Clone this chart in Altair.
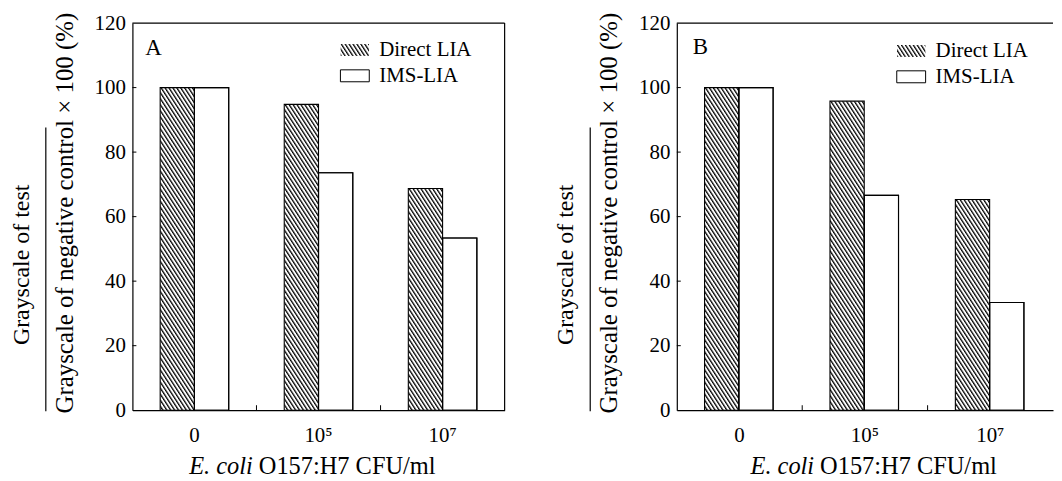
import base64
import altair as alt
import pandas as pd

# ---- data ----
categories = ["0", "10⁵", "10⁷"]
series = ["Direct LIA", "IMS-LIA"]
a_direct = [100.0, 94.8, 68.7]
a_ims = [100.0, 73.6, 53.4]
b_direct = [100.0, 95.8, 65.3]
b_ims = [100.0, 66.6, 33.4]
y_ticks = [20, 40, 60, 80, 100]
boundary_cats = ["10⁵", "10⁷"]

FONT = "Liberation Serif"
FS = 21
TFS = 24.5
H = 389

hatch_svg = (
    '<svg xmlns="http://www.w3.org/2000/svg">'
    '<defs><pattern id="h" patternUnits="userSpaceOnUse" width="3.3" height="20" '
    'patternTransform="rotate(-33)">'
    '<rect x="0" y="0" width="1.3" height="20" fill="black"/></pattern></defs>'
    '<rect width="100%" height="100%" fill="white"/>'
    '<rect width="100%" height="100%" fill="url(#h)"/></svg>'
)
HATCH = "data:image/svg+xml;base64," + base64.b64encode(hatch_svg.encode()).decode()


def panel(direct, ims, W, letter, leg, title_pos, ytitle, right_border):
    df = pd.DataFrame({
        "cat": categories * 2,
        "series": [series[0]] * 3 + [series[1]] * 3,
        "value": direct + ims,
        "img": [HATCH] * 3 + [""] * 3,
    })
    xsc = alt.Scale(domain=categories, paddingInner=0, paddingOuter=0)
    x_axis = alt.Axis(title=None, labelAngle=0, ticks=False, labelFont=FONT,
                      labelFontSize=FS, labelColor="black", labelPadding=14,
                      domainColor="black", domainWidth=1.2)
    x_enc = alt.X("cat:N", scale=xsc, sort=None, axis=x_axis)
    y_axis = alt.Axis(title=None, values=[0, 20, 40, 60, 80, 100, 120], ticks=False,
                      grid=False, labelFont=FONT, labelFontSize=FS,
                      labelColor="black", labelPadding=7,
                      domainColor="black", domainWidth=1.2)
    y_enc = alt.Y("value:Q", scale=alt.Scale(domain=[0, 120], nice=False), axis=y_axis)
    xo = alt.XOffset("series:N", scale=alt.Scale(domain=series, paddingInner=0, paddingOuter=0.81))

    base = alt.Chart(df)
    hatch = base.transform_filter(alt.datum.series == series[0]).mark_image(aspect=False).encode(
        x=x_enc, xOffset=xo, y=y_enc, y2=alt.datum(0), url="img:N")
    white = base.transform_filter(alt.datum.series == series[1]).mark_bar(
        fill="white", stroke="black", strokeWidth=1.1).encode(x=x_enc, xOffset=xo, y=y_enc)
    outline = base.mark_bar(fillOpacity=0, stroke="black", strokeWidth=1.1).encode(
        x=x_enc, xOffset=xo, y=y_enc)

    yt = alt.Chart(pd.DataFrame({"value": y_ticks})).mark_rule(color="black", strokeWidth=1).encode(
        y=y_enc, x=alt.value(0), x2=alt.value(4))
    xt = alt.Chart(pd.DataFrame({"cat": boundary_cats})).mark_rule(color="black", strokeWidth=1).encode(
        x=alt.X("cat:N", scale=xsc, sort=None, bandPosition=0, axis=x_axis),
        y=alt.value(H), y2=alt.value(H - 5))

    one = pd.DataFrame({"k": [0]})
    layers = [hatch, white, outline, yt, xt]
    # frame
    layers.append(alt.Chart(one).mark_rule(color="black", strokeWidth=1.2).encode(
        x=alt.value(0), x2=alt.value(W), y=alt.value(0)))
    if right_border:
        layers.append(alt.Chart(one).mark_rule(color="black", strokeWidth=1.2).encode(
            x=alt.value(W), y=alt.value(0), y2=alt.value(H)))
    # panel letter
    layers.append(alt.Chart(one).mark_text(font=FONT, fontSize=23, align="left", baseline="middle",
                                           color="black").encode(
        x=alt.value(letter[0]), y=alt.value(letter[1]), text=alt.value(letter[2])))
    # legend
    lx, ly1, ly2, ltx = leg
    layers.append(alt.Chart(one).mark_image(aspect=False).encode(
        x=alt.value(lx), x2=alt.value(lx + 29), y=alt.value(ly1 - 6), y2=alt.value(ly1 + 6),
        url=alt.value(HATCH)))
    layers.append(alt.Chart(one).mark_rect(fill="white", stroke="black", strokeWidth=1).encode(
        x=alt.value(lx), x2=alt.value(lx + 29), y=alt.value(ly2 - 6), y2=alt.value(ly2 + 6)))
    layers.append(alt.Chart(one).mark_text(font=FONT, fontSize=FS, align="left", baseline="middle",
                                           color="black").encode(
        x=alt.value(ltx), y=alt.value(ly1), text=alt.value(series[0])))
    layers.append(alt.Chart(one).mark_text(font=FONT, fontSize=FS, align="left", baseline="middle",
                                           color="black").encode(
        x=alt.value(ltx), y=alt.value(ly2), text=alt.value(series[1])))
    # x title
    tx1, tx2, ty = title_pos
    layers.append(alt.Chart(one).mark_text(font=FONT, fontSize=TFS, align="right", baseline="alphabetic",
                                           fontStyle="italic", color="black").encode(
        x=alt.value(tx1), y=alt.value(ty), text=alt.value("E. coli")))
    layers.append(alt.Chart(one).mark_text(font=FONT, fontSize=TFS, align="left", baseline="alphabetic",
                                           color="black").encode(
        x=alt.value(tx2), y=alt.value(ty), text=alt.value("O157:H7 CFU/ml")))
    # y title (fraction)
    l1x, l1y, l2x, l2y, fx, fy1, fy2 = ytitle
    layers.append(alt.Chart(one).mark_text(font=FONT, fontSize=24, align="center", baseline="middle",
                                           angle=270, color="black").encode(
        x=alt.value(l1x), y=alt.value(l1y), text=alt.value("Grayscale of test")))
    layers.append(alt.Chart(one).mark_text(font=FONT, fontSize=25, align="center", baseline="middle",
                                           angle=270, color="black").encode(
        x=alt.value(l2x), y=alt.value(l2y),
        text=alt.value("Grayscale of negative control × 100 (%)")))
    layers.append(alt.Chart(one).mark_rule(color="black", strokeWidth=1.2).encode(
        x=alt.value(fx), y=alt.value(fy1), y2=alt.value(fy2)))

    return alt.layer(*layers).properties(width=W, height=H)


pa = panel(a_direct, a_ims, 374, (13, 25, "A"), (209, 27, 53, 248), (121, 127, 453),
           (-111, 243, -68, 191, -87, 105, 390), True)
pb = panel(b_direct, b_ims, 378, (16, 24, "B"), (221, 28, 54, 260), (138, 144, 453),
           (-111, 243, -68, 191, -87, 105, 390), False)

chart = alt.hconcat(pa, pb, spacing=173, bounds="flush").properties(
    padding={"left": 2, "top": 3, "right": 0, "bottom": 0}
).configure_view(strokeWidth=0)

chart.save("out.html", embed_options={"renderer": "svg", "actions": False})
